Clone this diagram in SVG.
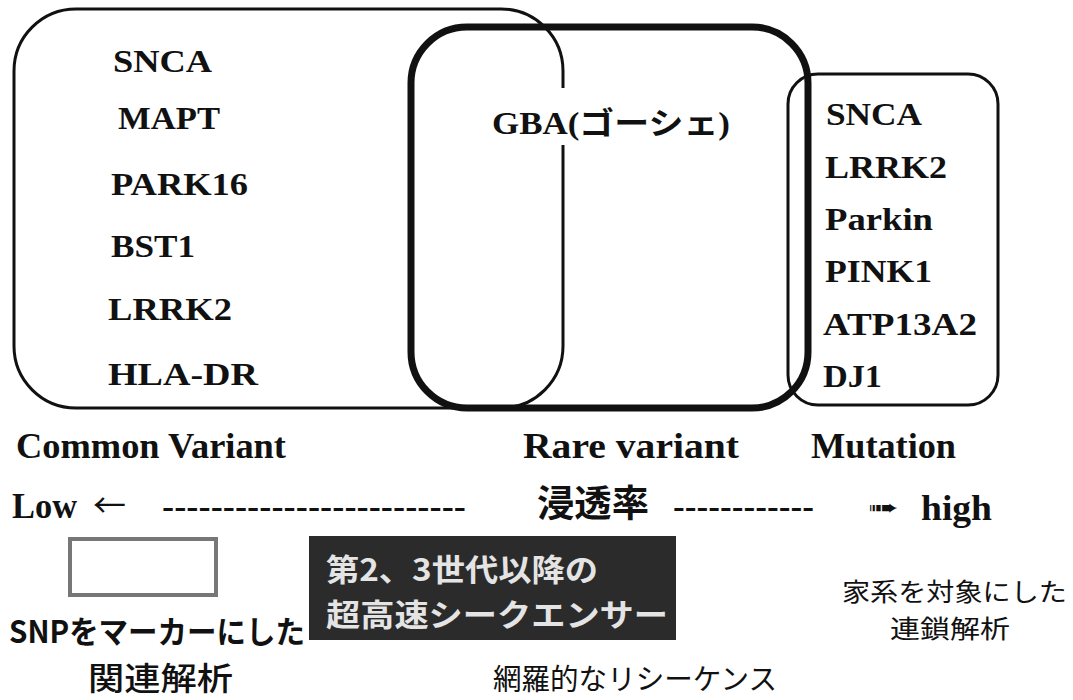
<svg xmlns="http://www.w3.org/2000/svg" width="1073" height="700" viewBox="0 0 1073 700">
<style>
.frame{fill:none;stroke:#111;stroke-width:3}
.thick{fill:none;stroke:#111;stroke-width:7}
.gene{font-family:"Liberation Serif","Times New Roman",serif;font-weight:bold;font-size:31px;fill:#111}
.lab{font-family:"Liberation Serif","Times New Roman",serif;font-weight:bold;font-size:35px;fill:#111}
.jp{font-family:"Noto Sans CJK JP","Noto Sans",sans-serif;fill:#111}
.dash{font-family:"Liberation Sans",sans-serif;font-size:26px;font-weight:bold;fill:#111}
</style>
<rect width="1073" height="700" fill="#fff"/>
<g id="common-variant">
<rect class="frame" x="14" y="9" width="549" height="399" rx="62" ry="62"/>
<text class="gene" x="113" y="72" textLength="99" lengthAdjust="spacingAndGlyphs">SNCA</text>
<text class="gene" x="118" y="129" textLength="102" lengthAdjust="spacingAndGlyphs">MAPT</text>
<text class="gene" x="111" y="195" textLength="137" lengthAdjust="spacingAndGlyphs">PARK16</text>
<text class="gene" x="111" y="257" textLength="84" lengthAdjust="spacingAndGlyphs">BST1</text>
<text class="gene" x="108" y="320" textLength="124" lengthAdjust="spacingAndGlyphs">LRRK2</text>
<text class="gene" x="108" y="385" textLength="150" lengthAdjust="spacingAndGlyphs">HLA-DR</text>
<text class="lab" x="16" y="458" textLength="270" lengthAdjust="spacingAndGlyphs">Common Variant</text>
</g>
<g id="rare-variant">
<rect class="thick" x="411" y="27" width="397" height="381" rx="56" ry="56"/>
<rect x="488" y="88" width="247" height="57" fill="#fff"/>
<text class="gene" x="492" y="134" textLength="238" lengthAdjust="spacingAndGlyphs" style="font-family:'Liberation Serif','Noto Sans CJK JP',serif;font-size:31px">GBA(ゴーシェ)</text>
<text class="lab" x="523" y="458" textLength="216" lengthAdjust="spacingAndGlyphs">Rare variant</text>
</g>
<g id="mutation">
<rect class="frame" x="788" y="74" width="210" height="331" rx="30" ry="30"/>
<text class="gene" x="826" y="125" textLength="96" lengthAdjust="spacingAndGlyphs">SNCA</text>
<text class="gene" x="825" y="178" textLength="122" lengthAdjust="spacingAndGlyphs">LRRK2</text>
<text class="gene" x="825" y="230" textLength="108" lengthAdjust="spacingAndGlyphs">Parkin</text>
<text class="gene" x="825" y="282" textLength="107" lengthAdjust="spacingAndGlyphs">PINK1</text>
<text class="gene" x="823" y="335" textLength="154" lengthAdjust="spacingAndGlyphs">ATP13A2</text>
<text class="gene" x="823" y="387" textLength="59" lengthAdjust="spacingAndGlyphs">DJ1</text>
<text class="lab" x="811" y="458" textLength="145" lengthAdjust="spacingAndGlyphs">Mutation</text>
</g>
<g id="penetrance-axis">
<text class="lab" x="12" y="518" style="font-size:36px" textLength="65" lengthAdjust="spacingAndGlyphs">Low</text>
<text class="jp" x="93" y="517" style="font-size:32px" textLength="33" lengthAdjust="spacingAndGlyphs">←</text>
<text class="dash" x="162" y="516" textLength="304" lengthAdjust="spacingAndGlyphs">-------------------------</text>
<text class="jp" x="537" y="517" style="font-size:37px;font-weight:bold" textLength="112" lengthAdjust="spacingAndGlyphs">浸透率</text>
<text class="dash" x="673" y="516" textLength="141" lengthAdjust="spacingAndGlyphs">------------</text>
<text x="868" y="515" style="font-family:'DejaVu Sans',sans-serif;font-size:22px;fill:#111" textLength="31" lengthAdjust="spacingAndGlyphs">➠</text>
<text class="lab" x="921" y="520" style="font-size:36px" textLength="71" lengthAdjust="spacingAndGlyphs">high</text>
</g>
<g id="snp-association">
<rect x="70" y="539" width="146" height="56" fill="#fff" stroke="#777" stroke-width="4"/>
<text class="jp"><tspan x="9" y="643" style="font-size:31px;font-weight:bold" textLength="296" lengthAdjust="spacingAndGlyphs">SNPをマーカーにした</tspan><tspan x="88" y="690" style="font-size:32px;font-weight:500" textLength="145" lengthAdjust="spacingAndGlyphs">関連解析</tspan></text>
</g>
<g id="sequencer">
<rect x="309" y="536" width="367" height="104" fill="#2b2b2b"/>
<text class="jp" style="font-size:31px;font-weight:bold;fill:#e4e4e4"><tspan x="326" y="581" textLength="272" lengthAdjust="spacingAndGlyphs">第2、3世代以降の</tspan><tspan x="326" y="626" textLength="342" lengthAdjust="spacingAndGlyphs">超高速シークエンサー</tspan></text>
<text class="jp" x="493" y="690" style="font-size:29px" textLength="284" lengthAdjust="spacingAndGlyphs">網羅的なリシーケンス</text>
</g>
<g id="linkage">
<text class="jp" style="font-size:25px"><tspan x="842" y="601" textLength="225" lengthAdjust="spacingAndGlyphs">家系を対象にした</tspan><tspan x="890" y="638" textLength="120" lengthAdjust="spacingAndGlyphs">連鎖解析</tspan></text>
</g>
<g id="connectors"/>
</svg>
